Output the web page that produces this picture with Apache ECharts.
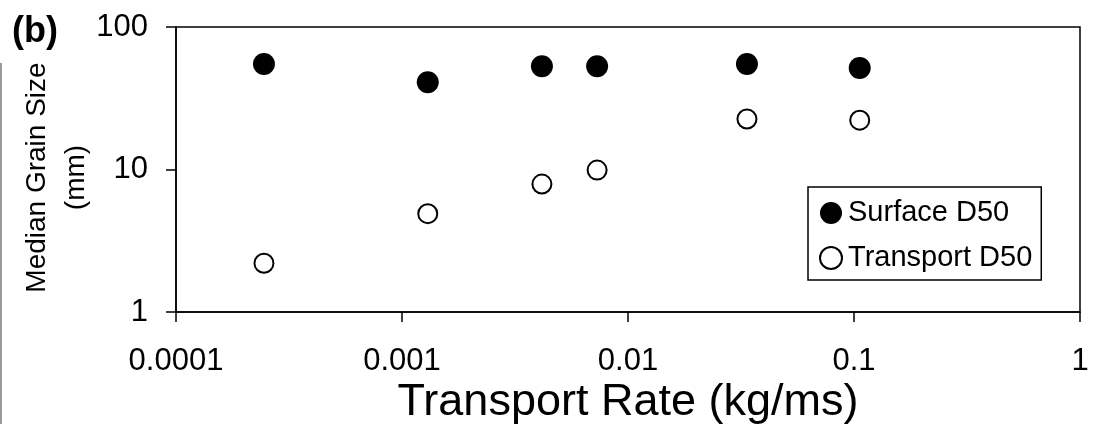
<!DOCTYPE html>
<html>
<head>
<meta charset="utf-8">
<script src="https://cdn.jsdelivr.net/npm/echarts@6/dist/echarts.min.js"></script>
<style>
  html, body { margin: 0; padding: 0; background: #fff; }
  #chart { width: 1094px; height: 424px; }
</style>
</head>
<body>
<div id="chart"></div>
<script>
// Transport rate (kg/ms)
const transportRate = [0.000245, 0.0013, 0.00416, 0.0073, 0.0336, 0.106];
// Median grain size (mm)
const surfaceD50 = [55, 41, 53, 53, 55, 51.5];
const transportD50 = [2.2, 4.9, 7.9, 9.9, 22.6, 22.2];
const xTickLabels = ['0.0001', '0.001', '0.01', '0.1', '1'];
const yTickLabels = ['1', '10', '100'];

const font = '"Liberation Sans", Arial, sans-serif';

const chart = echarts.init(document.getElementById('chart'), null, { renderer: 'canvas' });

const option = {
    backgroundColor: '#ffffff',
    animation: false,
    textStyle: { fontFamily: font, color: '#000' },
    grid: {
        left: 176,
        right: 14,
        top: 27,
        bottom: 112,
        outerBoundsMode: 'none',
        containLabel: false,
        show: true,
        borderColor: '#000',
        borderWidth: 1.5,
        backgroundColor: 'transparent'
    },
    legend: {
        orient: 'vertical',
        left: 808,
        top: 187,
        padding: [11, 9, 7, 11],
        itemGap: 15,
        itemWidth: 22,
        itemHeight: 22,
        borderColor: '#000',
        borderWidth: 1.5,
        backgroundColor: '#fff',
        textStyle: { fontFamily: font, fontSize: 29, color: '#000', lineHeight: 30, padding: [0, 0, 0, 1] },
        data: [
            { name: 'Surface D50', icon: 'circle' },
            { name: 'Transport D50', icon: 'circle' }
        ]
    },
    xAxis: {
        type: 'log',
        logBase: 10,
        min: 0.0001,
        max: 1,
        name: 'Transport Rate (kg/ms)',
        nameLocation: 'middle',
        nameGap: 68,
        nameMoveOverlap: false,
        nameTextStyle: { fontFamily: font, fontSize: 45, color: '#000' },
        axisLine: { lineStyle: { color: '#000', width: 1.5 } },
        axisTick: { show: true, inside: false, length: 10, lineStyle: { color: '#000', width: 1.5 } },
        minorTick: { show: false },
        splitLine: { show: false },
        axisLabel: {
            fontFamily: font,
            fontSize: 31,
            color: '#000',
            margin: 34,
            formatter: function (v) {
                const i = Math.round(Math.log10(v)) + 4;
                return xTickLabels[i] !== undefined ? xTickLabels[i] : '';
            }
        }
    },
    yAxis: {
        type: 'log',
        logBase: 10,
        min: 1,
        max: 100,
        name: 'Median Grain Size\n(mm)',
        nameLocation: 'middle',
        nameRotate: 90,
        nameGap: 80,
        nameMoveOverlap: false,
        nameTextStyle: { fontFamily: font, fontSize: 28, color: '#000', lineHeight: 39, align: 'center', padding: [0, 16, 0, 0] },
        axisLine: { lineStyle: { color: '#000', width: 1.5 } },
        axisTick: { show: true, inside: false, length: 10, lineStyle: { color: '#000', width: 1.5 } },
        minorTick: { show: false },
        splitLine: { show: false },
        axisLabel: {
            fontFamily: font,
            fontSize: 31,
            color: '#000',
            margin: 28,
            formatter: function (v) {
                const i = Math.round(Math.log10(v));
                return yTickLabels[i] !== undefined ? yTickLabels[i] : '';
            }
        }
    },
    series: [
        {
            name: 'Surface D50',
            type: 'scatter',
            symbol: 'circle',
            symbolSize: 22,
            itemStyle: { color: '#000', borderColor: '#000', borderWidth: 0, opacity: 1 },
            data: transportRate.map((x, i) => [x, surfaceD50[i]])
        },
        {
            name: 'Transport D50',
            type: 'scatter',
            symbol: 'circle',
            symbolSize: 19,
            itemStyle: { color: '#fff', borderColor: '#000', borderWidth: 2, opacity: 1 },
            data: transportRate.map((x, i) => [x, transportD50[i]])
        }
    ],
    graphic: [
        {
            type: 'text',
            left: 12,
            top: 14,
            style: { text: '(b)', font: 'bold 36px "Liberation Sans", Arial, sans-serif', fill: '#000' }
        },
        {
            type: 'line',
            shape: { x1: 1, y1: 63, x2: 1, y2: 424 },
            style: { stroke: '#9a9a9a', lineWidth: 2 }
        }
    ]
};

chart.setOption(option);
window.addEventListener('resize', function () {
    chart.resize();
});
</script>
</body>
</html>
